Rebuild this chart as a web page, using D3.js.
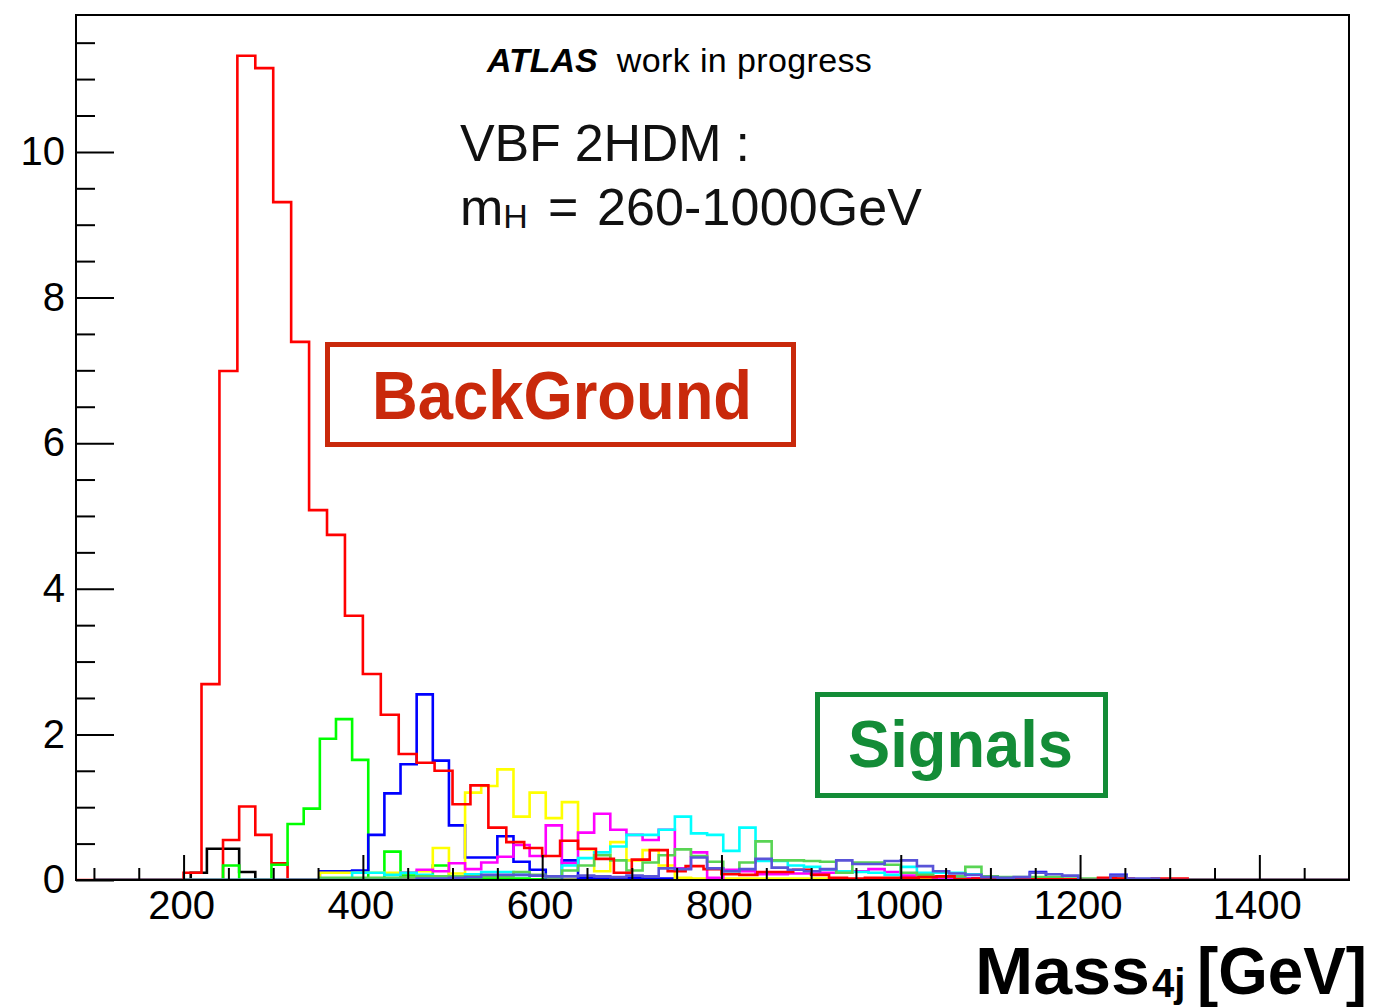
<!DOCTYPE html>
<html>
<head>
<meta charset="utf-8">
<script src="https://cdn.jsdelivr.net/npm/d3@7"></script>
<style>
body { margin: 0; background: #fff; }
text { font-family: "Liberation Sans", Arial, sans-serif; }
</style>
</head>
<body>
<script>
// background: 20 GeV bins starting at 80 GeV
const bgStart = 80, bgWidth = 20;
const background = [0, 0, 0, 0, 0, 0, 0.10, 2.69, 6.99, 11.32,
    11.15, 9.31, 7.39, 5.08, 4.74, 3.63, 2.83, 2.27, 1.73, 1.61,
    1.50, 1.04, 1.30, 0.72, 0.52, 0.44, 0.33, 0.54, 0.43, 0.29,
    0.10, 0.28, 0.41, 0.12, 0.19, 0.15, 0.08, 0.07, 0.11, 0.11,
    0.14, 0.07, 0.03, 0.02, 0.03, 0.03, 0.03, 0.04, 0.05, 0.01,
    0.02, 0.02, 0.02, 0.01, 0.01, 0.01, 0, 0.03, 0.02, 0,
    0.02, 0.02, 0, 0, 0, 0, 0, 0, 0, 0, 0];

// signals: 18 GeV bins starting at 100 GeV, each listed from its first filled bin
const sigStart = 100, sigWidth = 18, sigBins = 78;
const sigFirstBin = [6, 8, 8, 14, 14, 19, 16, 14, 20];
const sigBlack = [0.10, 0.43, 0.43, 0.11];
const sigRed = [0.55, 1.01, 0.62, 0.23];
const sigGreen = [0.20, 0, 0, 0.21, 0.77, 0.98, 1.94, 2.21, 1.65, 0.02,
    0.39, 0.06, 0.05, 0.20, 0.03, 0.03, 0.02, 0.02, 0.02, 0.01];
const sigBlue = [0.12, 0.12, 0.13, 0.62, 1.19, 1.59, 2.55, 1.64, 0.75, 0.31,
    0.31, 0.60, 0.25, 0.14, 0, 0.27, 0.03, 0.02, 0.02, 0.03,
    0.02, 0.02, 0.02, 0.01, 0.01, 0.01, 0.01, 0.01, 0.01, 0.01,
    0.01, 0.01, 0.01, 0.01, 0.01, 0.01, 0.01, 0.02, 0.02, 0.02,
    0.02, 0.02, 0.02, 0.03, 0.11, 0.03, 0.01, 0.01, 0.01, 0.07];
const sigYellow = [0.10, 0.10, 0.10, 0.10, 0.10, 0.10, 0.12, 0.44, 0.09, 1.20,
    1.29, 1.52, 0.87, 1.20, 0.85, 1.07, 0.42, 0.12, 0.52, 0.27,
    0.41, 0.20, 0.03, 0.02, 0.02, 0.02, 0.02, 0.02, 0.02, 0.02,
    0.02, 0.02, 0.01, 0.01, 0.01, 0.01, 0.01, 0.01, 0.02];
const sigMagenta = [0.10, 0.14, 0.12, 0.23, 0.15, 0.24, 0.32, 0.48, 0.33, 0.75,
    0.23, 0.65, 0.91, 0.69, 0.62, 0.55, 0.69, 0.16, 0.38, 0.03,
    0.14, 0.12, 0.08, 0.08, 0.09, 0.09, 0.10, 0.10, 0.12, 0.15,
    0.11, 0.06, 0.07, 0.03, 0.02, 0.02, 0.05, 0.02];
const sigCyan = [0.10, 0.10, 0.07, 0.10, 0.07, 0.05, 0.05, 0.08, 0.11, 0.11,
    0.07, 0.06, 0.05, 0.20, 0.30, 0.38, 0.46, 0.62, 0.62, 0.69,
    0.87, 0.64, 0.62, 0.40, 0.72, 0.26, 0.26, 0.20, 0.18, 0.14,
    0.12, 0.11, 0.10, 0.07, 0.18, 0.10, 0.10, 0.10, 0.08, 0.05,
    0.03, 0.02];
const sigGreen2 = [0.03, 0.03, 0.03, 0.03, 0.03, 0.04, 0.05, 0.05, 0.05, 0.05,
    0.05, 0.05, 0.11, 0.07, 0.04, 0.13, 0.20, 0.34, 0.27, 0.13,
    0.24, 0.34, 0.42, 0.33, 0.25, 0.12, 0.24, 0.53, 0.27, 0.27,
    0.26, 0.25, 0.10, 0.24, 0.24, 0.21, 0.10, 0.07, 0.05, 0.05,
    0.18, 0.05, 0.04, 0.04, 0.04, 0.04, 0.05, 0.02, 0.02, 0.02];
const sigPurple = [0.02, 0.02, 0.03, 0.04, 0.07, 0.07, 0.07, 0.06, 0.05, 0.05,
    0.06, 0.05, 0.04, 0.06, 0.05, 0.16, 0.15, 0.31, 0.16, 0.12,
    0.15, 0.29, 0.17, 0.14, 0.12, 0.15, 0.27, 0.22, 0.22, 0.26,
    0.27, 0.19, 0.12, 0.09, 0.07, 0.04, 0.03, 0.04, 0.10, 0.08,
    0.06, 0, 0, 0.06, 0.02, 0.02];
const signals = [sigBlack, sigRed, sigGreen, sigBlue, sigYellow, sigMagenta, sigCyan, sigGreen2, sigPurple];
const sigColors = ["#000000", "#ff0000", "#00ff00", "#0000ff", "#ffff00", "#ff00ff", "#00ffff", "#59d454", "#5954d8"];

const xMajor = [200, 400, 600, 800, 1000, 1200, 1400];
const yMajor = [0, 2, 4, 6, 8, 10];

// canvas
const canvWidth = 1375, canvHeight = 1007;
const margin = {top: 15, right: 26, bottom: 127, left: 76};
const width = canvWidth - margin.left - margin.right;
const height = canvHeight - margin.top - margin.bottom;

const svg = d3.select("body").append("svg")
    .attr("width", canvWidth)
    .attr("height", canvHeight);

svg.append("defs").append("clipPath").attr("id", "plot-clip")
    .append("rect").attr("width", width).attr("height", height);

const g = svg.append("g")
    .attr("transform", "translate(" + margin.left + "," + margin.top + ")");

const xScale = d3.scaleLinear().domain([80, 1500]).range([0, width]);
const yScale = d3.scaleLinear().domain([0, 11.88]).range([height, 0]);

// outline of a histogram as a step line
function stepPoints(values, start, w) {
    const pts = [[start, 0]];
    values.forEach((v, i) => {
        pts.push([start + i * w, v]);
        pts.push([start + (i + 1) * w, v]);
    });
    pts.push([start + values.length * w, 0]);
    return pts;
}
const line = d3.line().x(d => xScale(d[0])).y(d => yScale(d[1]));

function fullSignal(k) {
    const vals = new Array(sigBins).fill(0);
    signals[k].forEach((v, i) => vals[sigFirstBin[k] + i] = v);
    return vals;
}

const hists = g.append("g").attr("clip-path", "url(#plot-clip)");

function drawHist(values, start, w, color) {
    hists.append("path")
        .attr("d", line(stepPoints(values, start, w)))
        .attr("fill", "none")
        .attr("stroke", color)
        .attr("stroke-width", 2.6)
        .attr("stroke-linejoin", "miter");
}

// signals first, background on top, last signal drawn after it
for (let k = 0; k < signals.length - 1; k++) drawHist(fullSignal(k), sigStart, sigWidth, sigColors[k]);
drawHist(background, bgStart, bgWidth, "#ff0000");
drawHist(fullSignal(signals.length - 1), sigStart, sigWidth, sigColors[signals.length - 1]);

// axes
const xAxis = d3.axisBottom(xScale).tickValues(xMajor).tickFormat(d3.format("d"))
    .tickSizeInner(-25).tickSizeOuter(0).tickPadding(11);
const xMinor = d3.axisBottom(xScale).tickValues(d3.range(100, 1500, 50).filter(v => v % 200 !== 0))
    .tickSizeInner(-12).tickSizeOuter(0).tickFormat("");
const yAxis = d3.axisLeft(yScale).tickValues(yMajor).tickSizeInner(-38).tickSizeOuter(0).tickPadding(11);
const yMinor = d3.axisLeft(yScale).tickValues(d3.range(0.5, 11.8, 0.5).filter(v => v % 2 !== 0))
    .tickSizeInner(-19).tickSizeOuter(0).tickFormat("");

[[xAxis, true], [xMinor, true], [yAxis, false], [yMinor, false]].forEach(([ax, isX]) => {
    const a = g.append("g");
    if (isX) a.attr("transform", "translate(0," + height + ")");
    a.call(ax);
    a.select(".domain").remove();
    a.selectAll("line").attr("stroke", "#000").attr("stroke-width", 2);
    a.selectAll("text")
        .attr("font-family", "Liberation Sans, Arial, sans-serif")
        .attr("font-size", 40)
        .attr("fill", "#000")
        .attr("dx", isX ? -2.5 : 0);
});

// frame
g.append("rect")
    .attr("width", width).attr("height", height)
    .attr("fill", "none").attr("stroke", "#000").attr("stroke-width", 2);

// labels
const t1 = svg.append("text").attr("x", 487).attr("y", 72).attr("font-size", 34);
t1.append("tspan").attr("font-weight", "bold").attr("font-style", "italic").text("ATLAS");
t1.append("tspan").attr("dx", 19).attr("textLength", 255).attr("lengthAdjust", "spacing").text("work in progress");

svg.append("text").attr("x", 460).attr("y", 161).attr("font-size", 52).attr("fill", "#111")
    .attr("textLength", 290).attr("lengthAdjust", "spacing")
    .text("VBF 2HDM :");
const t2 = svg.append("text").attr("x", 460).attr("y", 225).attr("font-size", 52).attr("fill", "#111");
t2.append("tspan").text("m");
t2.append("tspan").attr("font-size", 34).attr("dy", 3).text("H");
t2.append("tspan").attr("dy", -3).attr("x", 548).text("=");
t2.append("tspan").attr("x", 597).attr("textLength", 325).attr("lengthAdjust", "spacing").text("260-1000GeV");

// boxed annotations
svg.append("rect").attr("x", 327.5).attr("y", 344.5).attr("width", 466).attr("height", 100)
    .attr("fill", "none").attr("stroke", "#c9290b").attr("stroke-width", 5);
svg.append("text").attr("x", 372).attr("y", 419)
    .attr("font-family", "Noto Sans, sans-serif").attr("font-weight", "bold").attr("font-size", 68)
    .attr("fill", "#c9290b").attr("textLength", 380).attr("lengthAdjust", "spacingAndGlyphs")
    .text("BackGround");

svg.append("rect").attr("x", 817.5).attr("y", 694.5).attr("width", 288).attr("height", 101)
    .attr("fill", "none").attr("stroke", "#138c37").attr("stroke-width", 5);
svg.append("text").attr("x", 848).attr("y", 767)
    .attr("font-family", "Noto Sans, sans-serif").attr("font-weight", "bold").attr("font-size", 66)
    .attr("fill", "#138c37").attr("textLength", 225).attr("lengthAdjust", "spacingAndGlyphs")
    .text("Signals");

// x axis title
const xt = svg.append("text").attr("x", 975).attr("y", 994)
    .attr("font-weight", "bold").attr("font-size", 66).attr("fill", "#000");
xt.append("tspan").attr("textLength", 175).attr("lengthAdjust", "spacingAndGlyphs").text("Mass");
xt.append("tspan").attr("font-size", 40).attr("dy", 3).attr("x", 1152).text("4j");
xt.append("tspan").attr("dy", -3).attr("x", 1197).attr("textLength", 170).attr("lengthAdjust", "spacingAndGlyphs").text("[GeV]");
</script>
</body>
</html>
